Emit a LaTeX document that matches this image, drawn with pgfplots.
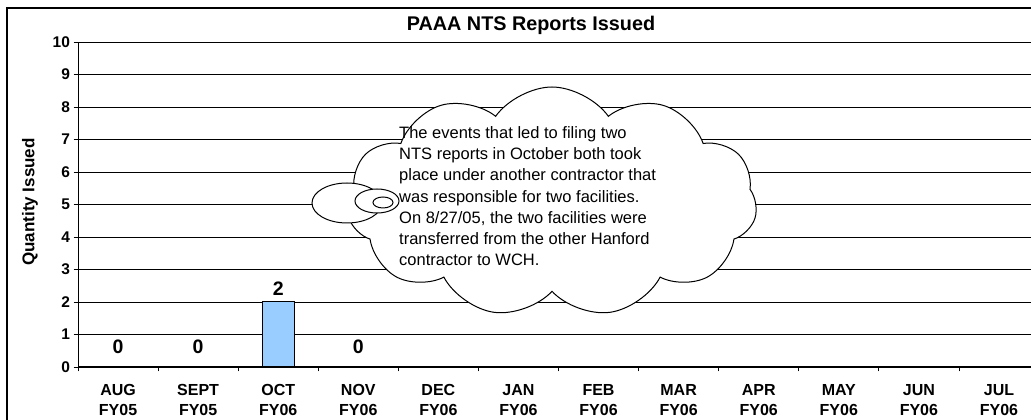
\documentclass[border=0pt]{standalone}
\usepackage{fontspec}
\setmainfont{Liberation Sans}
\usepackage{pgfplots}
\pgfplotsset{compat=1.18}
\usetikzlibrary{shapes.symbols}
\definecolor{barblue}{RGB}{153,204,255}
\begin{document}
\begin{tikzpicture}[x=1pt,y=1pt]
\path[use as bounding box] (0,0) rectangle (1031,420);
\clip (0,0) rectangle (1031,420);
\draw[line width=2pt] (7,411.7) rectangle (1060,-20);
\begin{axis}[
  at={(78pt,53pt)}, anchor=south west,
  scale only axis, width=961pt, height=325pt,
  xmin=-0.5, xmax=11.5, ymin=0, ymax=10,
  axis x line=bottom, axis y line=left,
  axis line style={-, line width=1pt, black},
  ytick={0,...,10},
  xtick={-0.5,0.5,...,11.5}, xticklabels={},
  extra x ticks={0,...,11},
  extra x tick labels={{AUG\\FY05},{SEPT\\FY05},{OCT\\FY06},{NOV\\FY06},{DEC\\FY06},{JAN\\FY06},{FEB\\FY06},{MAR\\FY06},{APR\\FY06},{MAY\\FY06},{JUN\\FY06},{JUL\\FY06}},
  extra x tick style={major tick length=0pt, grid=none},
  tick align=outside,
  major tick length=4.5pt,
  tick style={black, line width=0.8pt},
  ymajorgrids, grid style={black, line width=0.8pt},
  yticklabel style={font=\bfseries\fontsize{15.5}{15.5}\selectfont},
  xticklabel style={font=\bfseries\fontsize{16}{20}\selectfont, align=center, yshift=-14pt},
  /pgf/number format/assume math mode=true,
  clip=false,
]
\addplot[ybar, bar width=32pt, bar shift=0pt, fill=barblue, draw=black, line width=1pt,
  nodes near coords,
  every node near coord/.append style={font=\bfseries\fontsize{19.5}{19.5}\selectfont, anchor=center, yshift=13pt, black}]
  coordinates {(2,2)};
\addplot[draw=none, mark=none, nodes near coords,
  every node near coord/.append style={font=\bfseries\fontsize{19.5}{19.5}\selectfont, anchor=center, yshift=20pt, black}]
  coordinates {(0,0) (1,0) (3,0)};
\end{axis}
\node[cloud, cloud puffs=11, cloud puff arc=110, aspect=1.8, draw, fill=white, line width=1pt,
  minimum width=410pt, minimum height=230pt, inner sep=0pt] at (552,218) {};
\draw[fill=white, line width=1pt] (347,217) ellipse [x radius=35, y radius=20];
\draw[fill=white, line width=1pt] (377,219) ellipse [x radius=22, y radius=12];
\draw[fill=white, line width=1pt] (383,217.5) ellipse [x radius=10, y radius=5.5];
\node[anchor=north west, inner sep=0pt, align=left, font=\fontsize{16.5}{21.3}\selectfont] at (399,294)
  {The events that led to filing two\\NTS reports in October both took\\place under another contractor that\\was responsible for two facilities.\\On 8/27/05, the two facilities were\\transferred from the other Hanford\\contractor to WCH.};
\node[anchor=base, font=\bfseries\fontsize{19.8}{20}\selectfont] at (531,389) {PAAA NTS Reports Issued};
\node[rotate=90, font=\bfseries\fontsize{17}{17}\selectfont] at (30,218) {Quantity Issued};
\end{tikzpicture}
\end{document}
